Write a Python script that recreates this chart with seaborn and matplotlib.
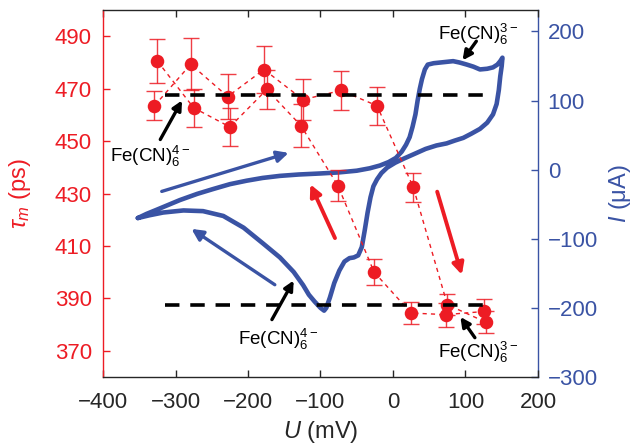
import matplotlib
matplotlib.use('Agg')
import matplotlib.pyplot as plt
import seaborn as sns
import pandas as pd

# ---- lifetime data (left axis) ----
# anodic sweep (Fe(CN)6 4- -> 3-)
fwd_u = [-329, -279, -228, -178, -124, -72, -22, 28, 75, 129]
fwd_tau = [463.5, 479.3, 467.0, 477.3, 465.8, 469.3, 463.5, 432.4, 387.6, 380.8]
fwd_err = [5.5, 10.0, 8.5, 8.9, 7.9, 7.4, 7.2, 5.6, 4.0, 4.2]
# cathodic sweep
rev_u = [-325, -275, -225, -174, -127, -76, -26, 25, 73, 126]
rev_tau = [480.5, 462.7, 455.4, 469.7, 455.9, 433.0, 400.0, 384.4, 383.8, 385.0]
rev_err = [8.5, 7.2, 7.1, 7.6, 8.3, 6.0, 5.0, 4.3, 4.6, 4.6]

# plateau levels
tau_red = 467.7
tau_ox = 387.6
level_u = (-314, 126)

# ---- cyclic voltammogram (right axis) ----
cv_u = [-352, -340, -326, -310, -294, -270, -248, -225, -202, -180, -156, -130,
        -100, -75, -50, -32, -18, -6, 4, 12, 18, 23, 27, 31, 34, 37, 40, 44, 48,
        56, 65, 74, 83, 92, 102, 111, 120, 130, 138, 144, 148, 151,
        150, 148, 146, 143, 138, 130, 120, 108, 97, 85, 74, 60, 45, 30, 15, 3,
        -8, -16, -22, -27, -31, -35, -39, -43, -48, -54, -60, -67, -74, -81,
        -87, -92, -95, -100, -108, -116, -124, -137, -156, -179, -206, -234,
        -262, -289, -317, -336, -352]
cv_i = [-70, -64, -58, -51, -44, -35, -28, -21, -16, -12, -9, -7,
        -5.5, -4, -1.5, 2, 6, 11, 17, 26, 36, 47, 62, 80, 100, 117, 131, 145, 152,
        154, 155, 156, 157, 155, 152, 149, 145, 146, 148, 152, 157, 162,
        150, 135, 115, 95, 80, 68, 59, 52, 46, 42, 38, 35, 30, 23, 16, 10,
        3, -5, -14, -24, -40, -62, -88, -112, -124, -127, -128, -133, -146, -164,
        -185, -200, -204, -200, -191, -181, -167, -148, -127, -107, -84, -67,
        -60, -59, -62, -66, -70]

sns.set_style('ticks')
plt.rcParams['font.family'] = ['Liberation Sans', 'DejaVu Sans']
plt.rcParams['mathtext.fontset'] = 'custom'
plt.rcParams['mathtext.rm'] = 'Liberation Sans'
plt.rcParams['mathtext.it'] = 'Liberation Sans:italic'
plt.rcParams['mathtext.bf'] = 'Liberation Sans:bold'
plt.rcParams['xtick.direction'] = 'in'
plt.rcParams['ytick.direction'] = 'in'

RED = '#ED1C24'
BLUE = '#3A53A4'
DARK = '#262626'

fig = plt.figure(figsize=(6.34, 4.45), dpi=100)
ax = fig.add_axes([0.1625, 0.1528, 0.686, 0.8247])
ax2 = ax.twinx()

# CV on the right axis
cv = pd.DataFrame({'U': cv_u, 'I': cv_i})
sns.lineplot(data=cv, x='U', y='I', sort=False, estimator=None, ax=ax2,
             color=BLUE, lw=3.3)

# left axis drawn above the CV
ax.set_zorder(ax2.get_zorder() + 1)
ax.patch.set_visible(False)

for u, t, e in [(fwd_u, fwd_tau, fwd_err), (rev_u, rev_tau, rev_err)]:
    ax.errorbar(u, t, yerr=e, fmt='none', ecolor=RED, elinewidth=1.0,
                capsize=6, capthick=1.0, alpha=0.85, zorder=2)
    sns.lineplot(x=u, y=t, sort=False, estimator=None, ax=ax, color=RED,
                 lw=1.0, linestyle=(0, (3, 3)), zorder=3)
    sns.scatterplot(x=u, y=t, ax=ax, color=RED, s=95, linewidth=0, zorder=4)

for lvl in (tau_red, tau_ox):
    ax.hlines(lvl, level_u[0], level_u[1], colors='k', lw=2.6,
              linestyles=[(0, (4, 3))], zorder=5)

# arrows
def arrow(tail, head, color, lw, ms):
    ax.annotate('', xy=head, xytext=tail, zorder=6,
                arrowprops=dict(arrowstyle='-|>', color=color, lw=lw,
                                mutation_scale=ms, shrinkA=0, shrinkB=0))

arrow((-319, 430.8), (-144, 445.5), BLUE, 2.4, 17)
arrow((-163, 395.2), (-278, 416.5), BLUE, 2.4, 17)
arrow((-80, 413.0), (-114, 433.5), RED, 2.8, 17)
arrow((61, 430.7), (95, 399.0), RED, 2.8, 17)

arrow((-321, 450.6), (-291, 465.5), 'k', 2.4, 14)
arrow((115, 488.1), (96, 480.8), 'k', 2.4, 14)
arrow((-167, 381.9), (-137, 396.8), 'k', 2.4, 14)
arrow((113, 375.0), (93, 382.9), 'k', 2.4, 14)

lbl4 = r'Fe(CN)$_6^{4-}$'
lbl3 = r'Fe(CN)$_6^{3-}$'
tk = dict(fontsize=13.5, color='k', ha='center', va='center', zorder=7)
ax.text(-335, 444.0, lbl4, **tk)
ax.text(118, 490.5, lbl3, **tk)
ax.text(-158, 374.5, lbl4, **tk)
ax.text(118, 369.5, lbl3, **tk)

# axes formatting
ax.set_xlim(-400, 200)
ax.set_ylim(360, 500)
ax2.set_ylim(-300, 231)
ax.set_xticks(range(-400, 201, 100))
ax.set_yticks(range(370, 491, 20))
ax2.set_yticks(range(-300, 201, 100))

ax.tick_params(axis='x', direction='in', top=True, bottom=True, length=5,
               width=1, colors=DARK, labelsize=16, pad=11)
ax.tick_params(axis='y', direction='in', length=5, width=1, colors=RED,
               labelsize=16, pad=8)
ax2.tick_params(axis='y', direction='in', length=5, width=1, colors=BLUE,
                labelsize=16, pad=7)

for side in ('top', 'bottom'):
    ax.spines[side].set_color(DARK)
    ax2.spines[side].set_visible(False)
ax.spines['left'].set_color(RED)
ax.spines['right'].set_visible(False)
ax2.spines['left'].set_visible(False)
ax2.spines['right'].set_color(BLUE)
for s in list(ax.spines.values()) + list(ax2.spines.values()):
    s.set_linewidth(1.0)

ax.set_xlabel(r'$U$ (mV)', fontsize=17, color=DARK)
ax.set_ylabel(r'$\tau_m$ (ps)', fontsize=17, color=RED)
ax2.set_ylabel(r'$I$ (μA)', fontsize=17, color=BLUE)
ax.xaxis.set_label_coords(0.5, -0.115)
ax.yaxis.set_label_coords(-0.161, 0.5)
ax2.yaxis.set_label_coords(1.158, 0.5)

fig.savefig('out.png', dpi=100)
